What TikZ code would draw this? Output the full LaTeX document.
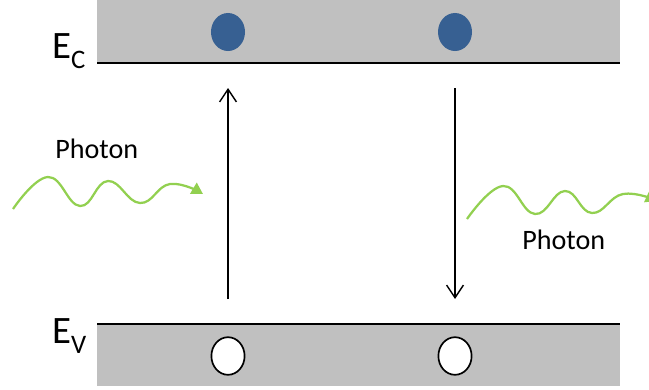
\documentclass[tikz,border=0pt]{standalone}
\usepackage{fontspec}
\setmainfont{Carlito}
\usetikzlibrary{arrows.meta,shapes.geometric}
\definecolor{bandgray}{RGB}{192,192,192}
\definecolor{eblue}{RGB}{55,96,146}
\definecolor{photongreen}{RGB}{146,208,80}
\begin{document}
\begin{tikzpicture}[x=0.025cm, y=-0.025cm,
  band/.style={fill=bandgray, draw=none},
  edgeline/.style={line width=1.5pt},
  electron/.style={ellipse, fill=eblue, inner sep=0pt, minimum width=0.85cm, minimum height=0.95cm},
  hole/.style={ellipse, fill=white, draw=black, line width=1.2pt, inner sep=0pt, minimum width=0.83cm, minimum height=0.94cm},
  trans/.style={line width=1pt, -{Straight Barb[length=9pt,width=12pt,line width=1pt]}},
  wave/.style={photongreen, line width=1.6pt, -{Triangle[length=8pt,width=9pt]}},
  levellabel/.style={anchor=base west, inner sep=0pt, font=\fontsize{27.6}{30}\selectfont},
  photonlabel/.style={anchor=base west, inner sep=0pt, font=\fontsize{20}{24}\selectfont}]
\useasboundingbox (0,0) rectangle (649,389);
% bands
\fill[band] (97,0) rectangle (620,63);
\fill[band] (97,324) rectangle (620,386);
\coordinate (cl) at (97,63);
\coordinate (cr) at (620,63);
\coordinate (vl) at (97,324);
\coordinate (vr) at (620,324);
\draw[edgeline] (cl) -- (cr);
\draw[edgeline] (vl) -- (vr);
\node[levellabel] (ec) at (52,58) {E\raisebox{-7.3pt}{\fontsize{19}{20}\selectfont C}};
\node[levellabel] (ev) at (52,343) {E\raisebox{-7.3pt}{\fontsize{19}{20}\selectfont V}};
% carriers
\node[electron] (e1) at (228,32) {};
\node[electron] (e2) at (455,32) {};
\node[hole] (h1) at (228,356) {};
\node[hole] (h2) at (455,356) {};
% transitions
\coordinate (up0) at (228,299);
\coordinate (up1) at (228,88);
\coordinate (dn0) at (455,88);
\coordinate (dn1) at (455,299);
\draw[trans] (up0) -- (up1);
\draw[trans] (dn0) -- (dn1);
% photons
\node[photonlabel] (pin) at (55,158) {Photon};
\node[photonlabel] (pout) at (522,249) {Photon};
\draw[wave] plot[smooth, tension=0.75] coordinates {(13,209) (48,177) (80,206) (108,181) (140,203) (170,184) (203,194)};
\draw[wave] plot[smooth, tension=0.75] coordinates {(467,219) (503,186) (535,214) (565,191) (592,213) (623,194) (657,201)};
\end{tikzpicture}
\end{document}
